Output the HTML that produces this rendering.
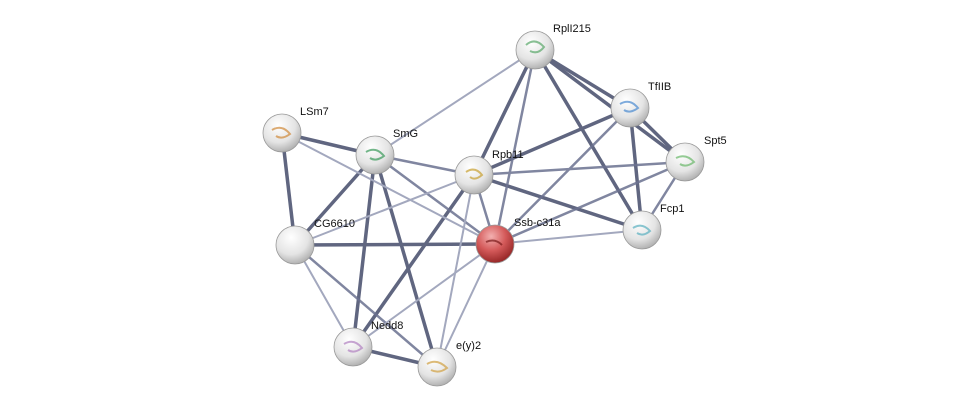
<!DOCTYPE html>
<html><head><meta charset="utf-8"><style>
html,body{margin:0;padding:0;background:#fff;width:976px;height:412px;overflow:hidden}
text{font-family:"Liberation Sans",sans-serif;font-size:11px;fill:#111}
</style></head><body>
<svg width="976" height="412" xmlns="http://www.w3.org/2000/svg">
<defs>
<radialGradient id="g" cx="0.4" cy="0.3" r="0.75">
<stop offset="0" stop-color="#ffffff"/><stop offset="0.6" stop-color="#e4e4e4"/><stop offset="1" stop-color="#a9a9a9"/></radialGradient>
<radialGradient id="r" cx="0.4" cy="0.3" r="0.75">
<stop offset="0" stop-color="#f3b0b0"/><stop offset="0.5" stop-color="#d45a5a"/><stop offset="1" stop-color="#8e2020"/></radialGradient>
</defs>
<g stroke-linecap="round">
<!-- thick dark -->
<g stroke="#4f5673" stroke-width="3.5" opacity="0.9">
<line x1="535" y1="50" x2="630" y2="108"/>
<line x1="535" y1="50" x2="685" y2="162"/>
<line x1="535" y1="50" x2="642" y2="230"/>
<line x1="535" y1="50" x2="474" y2="175"/>
<line x1="630" y1="108" x2="685" y2="162"/>
<line x1="630" y1="108" x2="642" y2="230"/>
<line x1="630" y1="108" x2="474" y2="175"/>
<line x1="642" y1="230" x2="474" y2="175"/>
<line x1="282" y1="133" x2="375" y2="155"/>
<line x1="282" y1="133" x2="295" y2="245"/>
<line x1="375" y1="155" x2="295" y2="245"/>
<line x1="375" y1="155" x2="353" y2="347"/>
<line x1="375" y1="155" x2="437" y2="367"/>
<line x1="474" y1="175" x2="353" y2="347"/>
<line x1="295" y1="245" x2="495" y2="244"/>
<line x1="353" y1="347" x2="437" y2="367"/>
</g>
<!-- medium -->
<g stroke="#6b7190" stroke-width="2.5" opacity="0.85">
<line x1="535" y1="50" x2="495" y2="244"/>
<line x1="630" y1="108" x2="495" y2="244"/>
<line x1="685" y1="162" x2="474" y2="175"/>
<line x1="685" y1="162" x2="495" y2="244"/>
<line x1="685" y1="162" x2="642" y2="230"/>
<line x1="375" y1="155" x2="474" y2="175"/>
<line x1="375" y1="155" x2="495" y2="244"/>
<line x1="474" y1="175" x2="495" y2="244"/>
<line x1="295" y1="245" x2="437" y2="367"/>
</g>
<!-- light -->
<g stroke="#a3a8be" stroke-width="2">
<line x1="535" y1="50" x2="375" y2="155"/>
<line x1="642" y1="230" x2="495" y2="244"/>
<line x1="282" y1="133" x2="495" y2="244"/>
<line x1="474" y1="175" x2="295" y2="245"/>
<line x1="474" y1="175" x2="437" y2="367"/>
<line x1="295" y1="245" x2="353" y2="347"/>
<line x1="495" y1="244" x2="353" y2="347"/>
<line x1="495" y1="244" x2="437" y2="367"/>
</g>
</g>
<g stroke="#999" stroke-width="0.8">
<circle cx="535" cy="50" r="19" fill="url(#g)"/>
<circle cx="630" cy="108" r="19" fill="url(#g)"/>
<circle cx="685" cy="162" r="19" fill="url(#g)"/>
<circle cx="642" cy="230" r="19" fill="url(#g)"/>
<circle cx="282" cy="133" r="19" fill="url(#g)"/>
<circle cx="375" cy="155" r="19" fill="url(#g)"/>
<circle cx="474" cy="175" r="19" fill="url(#g)"/>
<circle cx="295" cy="245" r="19" fill="url(#g)"/>
<circle cx="495" cy="244" r="19" fill="url(#r)"/>
<circle cx="353" cy="347" r="19" fill="url(#g)"/>
<circle cx="437" cy="367" r="19" fill="url(#g)"/>
</g>
<g fill="none" stroke-width="2" opacity="0.7">
<path d="M526 45 q9 -8 18 2 q-6 8 -14 4" stroke="#5aa86a"/>
<path d="M620 104 q10 -6 18 4 q-8 6 -14 2" stroke="#4a8ad0"/>
<path d="M676 158 q10 -5 18 4 q-8 6 -14 2" stroke="#6ab86a"/>
<path d="M633 228 q9 -6 17 3 q-7 6 -13 2" stroke="#5ab0c0"/>
<path d="M272 130 q10 -6 18 4 q-8 6 -14 2" stroke="#d08a3a"/>
<path d="M366 152 q10 -6 18 4 q-8 6 -14 2" stroke="#3a9a5a"/>
<path d="M466 172 q9 -6 16 3 q-7 6 -12 2" stroke="#c8a030"/>
<path d="M486 242 q9 -4 16 3" stroke="#7a1a1a"/>
<path d="M344 344 q10 -6 18 4 q-8 6 -14 2" stroke="#b080c0"/>
<path d="M427 364 q10 -6 20 4 q-8 6 -16 2" stroke="#d0a040"/>
</g>
<text x="553" y="32">RplI215</text>
<text x="648" y="90">TfIIB</text>
<text x="704" y="144">Spt5</text>
<text x="660" y="212">Fcp1</text>
<text x="300" y="115">LSm7</text>
<text x="393" y="137">SmG</text>
<text x="492" y="158">Rpb11</text>
<text x="314" y="227">CG6610</text>
<text x="514" y="226">Ssb-c31a</text>
<text x="371" y="329">Nedd8</text>
<text x="456" y="349">e(y)2</text>
</svg>
</body></html>
